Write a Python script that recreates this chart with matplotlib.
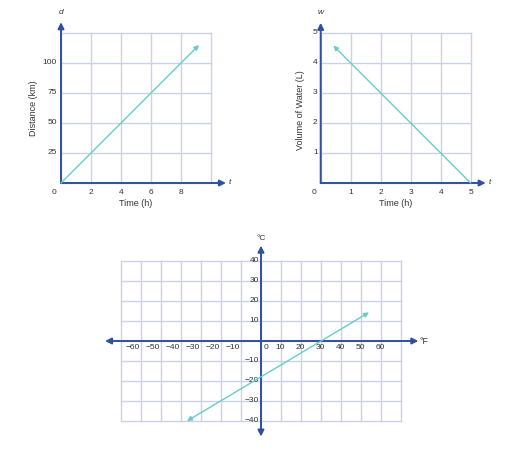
import matplotlib.pyplot as plt
import numpy as np

# colours
AXIS_BLUE = "#2f4f9f"
GRID_BLUE = "#cad2ea"
LINE_TEAL = "#66cccc"
TEXT_GREY = "#333333"

plt.rcParams["font.family"] = ["Liberation Sans", "DejaVu Sans"]
FS = 6.0        # tick labels
FS_TITLE = 6.5  # axis titles

# --- distance vs time
dist_grid_x = [0, 2, 4, 6, 8, 10]
dist_grid_y = [0, 25, 50, 75, 100, 125]
dist_xticks = [2, 4, 6, 8]
dist_yticks = [25, 50, 75, 100]
dist_time = [0, 9.2]
dist_km = [0, 115]

# --- water vs time
water_grid_x = [0, 1, 2, 3, 4, 5]
water_grid_y = [0, 1, 2, 3, 4, 5]
water_xticks = [1, 2, 3, 4, 5]
water_yticks = [1, 2, 3, 4, 5]
water_time = [5, 0.42]
water_litres = [0, 4.58]

# --- celsius vs fahrenheit
temp_grid_x = [-70, -60, -50, -40, -30, -20, -10, 0, 10, 20, 30, 40, 50, 60, 70]
temp_grid_y = [-40, -30, -20, -10, 0, 10, 20, 30, 40]
temp_xticks = [-60, -50, -40, -30, -20, -10, 10, 20, 30, 40, 50, 60]
temp_yticks = [40, 30, 20, 10, -10, -20, -30, -40]
temp_f = [-37, 54]
temp_c = [-40, 14.3]

W, H = 522, 450
fig = plt.figure(figsize=(W / 100, H / 100), dpi=100)


def make_axes(px_left, px_right, px_top, px_bottom, xlim, ylim):
    # place an axes by pixel box so the data scale matches the picture
    ax = fig.add_axes([px_left / W, 1 - px_bottom / H,
                       (px_right - px_left) / W, (px_bottom - px_top) / H])
    ax.set_xlim(*xlim)
    ax.set_ylim(*ylim)
    ax.axis("off")
    return ax


def draw_grid(ax, gx, gy):
    for x in gx:
        ax.plot([x, x], [gy[0], gy[-1]], color=GRID_BLUE, lw=1, zorder=1)
    for y in gy:
        ax.plot([gx[0], gx[-1]], [y, y], color=GRID_BLUE, lw=1, zorder=1)


def axis_arrow(ax, start, end, both=False):
    style = "<|-|>" if both else "-|>"
    ax.annotate("", xy=end, xytext=start,
                arrowprops=dict(arrowstyle=style, color=AXIS_BLUE, lw=1.4,
                                mutation_scale=9, shrinkA=0, shrinkB=0),
                zorder=3)


def data_line(ax, xs, ys, both=False):
    style = "<|-|>" if both else "-|>"
    ax.annotate("", xy=(xs[-1], ys[-1]), xytext=(xs[0], ys[0]),
                arrowprops=dict(arrowstyle=style, color=LINE_TEAL, lw=1.0,
                                mutation_scale=7, shrinkA=0, shrinkB=0),
                zorder=4)


# distance chart: x 15 px/unit, y 1.2 px/unit, origin at (61, 183)
ax1 = make_axes(53.5, 233.5, 9, 195, (-0.5, 11.5), (-10, 145))
draw_grid(ax1, dist_grid_x, dist_grid_y)
axis_arrow(ax1, (0, 0), (0, 134))
axis_arrow(ax1, (0, 0), (11.0, 0))
data_line(ax1, dist_time, dist_km)
for t in dist_xticks:
    ax1.text(t, -7.5, str(t), ha="center", va="center", fontsize=FS, color=TEXT_GREY)
for d in dist_yticks:
    ax1.text(-0.27, d, str(d), ha="right", va="center", fontsize=FS, color=TEXT_GREY)
ax1.text(-0.45, -7.5, "0", ha="center", va="center", fontsize=FS, color=TEXT_GREY)
ax1.text(5, -17.5, "Time (h)", ha="center", va="center", fontsize=FS_TITLE, color=TEXT_GREY)
ax1.text(-1.8, 62.5, "Distance (km)", ha="center", va="center", rotation=90,
         fontsize=FS_TITLE, color=TEXT_GREY)
ax1.text(0, 142, "d", ha="center", va="center", fontsize=FS, style="italic", color=TEXT_GREY)
ax1.text(11.2, 0, "t", ha="left", va="center", fontsize=FS, style="italic", color=TEXT_GREY)

# water chart: 30 px/unit, origin at (320.7, 183)
ax2 = make_axes(311.7, 494.7, 15, 195, (-0.3, 5.8), (-0.4, 5.6))
draw_grid(ax2, water_grid_x, water_grid_y)
axis_arrow(ax2, (0, 0), (0, 5.34))
axis_arrow(ax2, (0, 0), (5.5, 0))
data_line(ax2, water_time, water_litres)
for t in water_xticks:
    ax2.text(t, -0.3, str(t), ha="center", va="center", fontsize=FS, color=TEXT_GREY)
for w in water_yticks:
    ax2.text(-0.1, w, str(w), ha="right", va="center", fontsize=FS, color=TEXT_GREY)
ax2.text(-0.23, -0.3, "0", ha="center", va="center", fontsize=FS, color=TEXT_GREY)
ax2.text(2.5, -0.7, "Time (h)", ha="center", va="center", fontsize=FS_TITLE, color=TEXT_GREY)
ax2.text(-0.68, 2.43, "Volume of Water (L)", ha="center", va="center", rotation=90,
         fontsize=FS_TITLE, color=TEXT_GREY)
ax2.text(0, 5.67, "w", ha="center", va="center", fontsize=FS, style="italic", color=TEXT_GREY)
ax2.text(5.6, 0, "t", ha="left", va="center", fontsize=FS, style="italic", color=TEXT_GREY)

# temperature chart: 2 px/unit, origin at (261, 341)
ax3 = make_axes(101, 425, 237, 441, (-80, 82), (-50, 52))
draw_grid(ax3, temp_grid_x, temp_grid_y)
axis_arrow(ax3, (-78, 0), (78.7, 0), both=True)
axis_arrow(ax3, (0, -47.8), (0, 47.7), both=True)
data_line(ax3, temp_f, temp_c, both=True)
for f in temp_xticks:
    # negative labels end at their grid line, positive ones sit centred on it
    if f < 0:
        ax3.text(f - 0.5, -3.3, str(f).replace("-", "\u2212"), ha="right", va="center",
                 fontsize=FS, color=TEXT_GREY)
    else:
        ax3.text(f - 0.3, -3.3, str(f), ha="center", va="center",
                 fontsize=FS, color=TEXT_GREY)
ax3.text(2.7, -3.3, "0", ha="center", va="center", fontsize=FS, color=TEXT_GREY)
for c in temp_yticks:
    ax3.text(-1.0, c + 0.3, str(c).replace("-", "\u2212"), ha="right", va="center",
             fontsize=FS, color=TEXT_GREY)
ax3.text(0, 51.5, "\u00b0C", ha="center", va="center", fontsize=FS, color=TEXT_GREY)
ax3.text(79.5, 0, "\u00b0F", ha="left", va="center", fontsize=FS_TITLE, color=TEXT_GREY)

fig.savefig("out.png", dpi=100, facecolor="white")
